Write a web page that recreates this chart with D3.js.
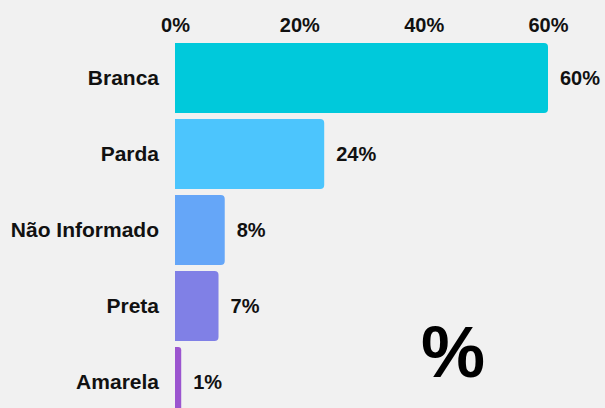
<!DOCTYPE html>
<html>
<head>
<meta charset="utf-8">
<script src="https://cdn.jsdelivr.net/npm/d3@7"></script>
<style>
  html, body { margin: 0; padding: 0; background: #f1f1f1; overflow: hidden; }
  svg { display: block; font-family: "Liberation Sans", Arial, sans-serif; }
</style>
</head>
<body>
<svg id="chart" width="605" height="408"></svg>
<script>
const categories = ["Branca", "Parda", "Não Informado", "Preta", "Amarela"];
const values = [60, 24, 8, 7, 1];
const barColors = ["#00c9db", "#4cc5fd", "#65a6f8", "#8080e6", "#9b55cf"];
const tickValues = [0, 20, 40, 60];

const svg = d3.select("#chart");

const x = d3.scaleLinear().domain([0, 60]).range([175, 548]);
const y = d3.scaleBand().domain(categories).range([40, 420]).paddingInner(0.08).paddingOuter(0.04);

// bar with rounded right corners only
const barPath = (x0, y0, w, h, r) => {
  r = Math.min(r, w / 2, h / 2);
  return `M${x0},${y0}H${x0 + w - r}Q${x0 + w},${y0} ${x0 + w},${y0 + r}` +
    `V${y0 + h - r}Q${x0 + w},${y0 + h} ${x0 + w - r},${y0 + h}H${x0}Z`;
};

svg.selectAll(".bar")
  .data(values)
  .enter()
  .append("path")
  .classed("bar", true)
  .attr("fill", (d, i) => barColors[i])
  .attr("d", (d, i) => barPath(x(0), y(categories[i]), x(d) - x(0), y.bandwidth(), 4));

// top axis
const xAxis = d3.axisTop(x).tickValues(tickValues).tickFormat(d => d + "%").tickSize(0);
const gx = svg.append("g").attr("transform", "translate(0,32)").call(xAxis);
gx.select(".domain").remove();
gx.selectAll("text")
  .attr("dy", 0)
  .attr("y", 0)
  .attr("fill", "#111")
  .style("font-size", "20px")
  .style("font-weight", "bold")
  .style("font-family", "'Liberation Sans', Arial, sans-serif");

// left axis
const yAxis = d3.axisLeft(y).tickSize(0).tickPadding(16);
const gy = svg.append("g").attr("transform", `translate(${x(0)},0)`).call(yAxis);
gy.select(".domain").remove();
gy.selectAll("text")
  .attr("fill", "#111")
  .style("font-size", "21px")
  .style("font-weight", "bold")
  .style("font-family", "'Liberation Sans', Arial, sans-serif");

// value labels
svg.selectAll(".val")
  .data(values)
  .enter()
  .append("text")
  .classed("val", true)
  .attr("x", d => x(d) + 12)
  .attr("y", (d, i) => y(categories[i]) + y.bandwidth() / 2)
  .attr("dy", "0.35em")
  .attr("fill", "#111")
  .style("font-size", "20px")
  .style("font-weight", "bold")
  .text(d => d + "%");

// big percent sign
svg.append("text")
  .attr("x", 453)
  .attr("y", 377)
  .attr("text-anchor", "middle")
  .attr("fill", "#000")
  .style("font-size", "72px")
  .style("font-weight", "bold")
  .text("%");
</script>
</body>
</html>
